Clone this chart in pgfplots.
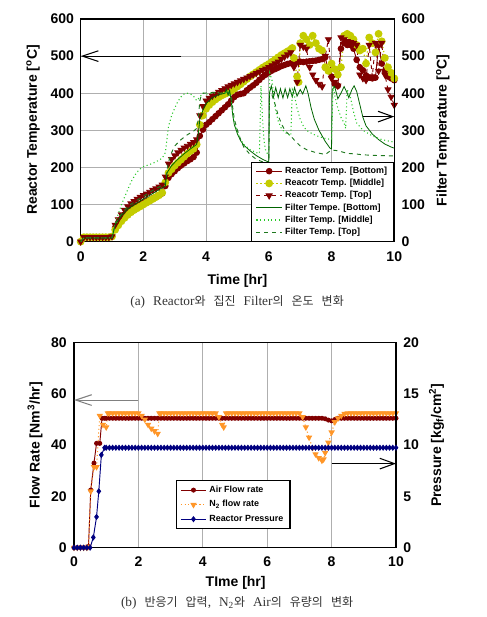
\documentclass[border=0pt]{standalone}
\usepackage{fontspec}
\setmainfont{Liberation Sans}
\newfontfamily\serifrm{Liberation Serif}
\newfontfamily\kr{Noto Sans CJK KR}
\usepackage{pgfplots}
\pgfplotsset{compat=1.18}
\usetikzlibrary{arrows.meta}
\definecolor{maroonA}{RGB}{128,0,0}
\definecolor{yel}{RGB}{196,204,0}
\definecolor{fgB}{RGB}{0,100,0}
\definecolor{fgM}{RGB}{40,200,40}
\definecolor{fgT}{RGB}{30,120,30}
\definecolor{orangeN}{RGB}{255,150,40}
\definecolor{navyP}{RGB}{0,0,128}
\definecolor{gridgray}{RGB}{175,175,175}
\newcommand{\K}[1]{{\kr\fontsize{9}{12}\selectfont #1}}
\newcommand{\SP}{\hspace{6pt}}
\pgfplotsset{
  base/.style={scale only axis, xmin=0, xmax=10, xtick={0,2,...,10},
    /pgf/number format/assume math mode=true,
    tick label style={font=\bfseries\fontsize{10.5}{12}\selectfont},
    label style={font=\bfseries\fontsize{10.5}{12}\selectfont},
    major tick length=0pt,
    axis line style={line width=0.8pt},
    major grid style={draw=gridgray, line width=0.7pt},
    legend cell align=left,
    legend image code/.code={\draw[mark repeat=2,mark phase=2,##1] plot coordinates {(0pt,0pt) (9.5pt,0pt) (19pt,0pt)};}},
  RB/.style={maroonA, line width=0.7pt, mark=*, mark size=2.1pt},
  RM/.style={yel, dotted, line width=1pt, mark=*, mark size=2.4pt, mark options={solid}},
  RT/.style={maroonA, dashed, line width=0.7pt, mark=triangle*, mark size=2.5pt, mark options={solid, rotate=180}},
  AIR/.style={maroonA, line width=0.7pt, mark=*, mark size=1.5pt},
  NN/.style={orangeN, dotted, line width=0.8pt, mark=triangle*, mark size=2pt, mark options={solid, rotate=180}},
}
\begin{document}
\begin{tikzpicture}
\useasboundingbox (0,0) rectangle (364.5pt,462.75pt);
% ================= TOP CHART =================
\begin{axis}[base, at={(60.5pt,281.5pt)}, anchor=south west, width=235.2pt, height=167pt,
  ymin=0, ymax=600, ytick={0,100,...,600}, ytick pos=left, xtick pos=left,
  grid=major,
  xticklabel style={yshift=-4pt}, yticklabel style={xshift=-1.5pt},
  xlabel={Time [hr]}, ylabel={Reactor Temperature [\textsuperscript{o}C]},
  xlabel style={at={(axis description cs:0.5,-0.176)}, anchor=center},
  ylabel style={at={(axis description cs:-0.152,0.502)}, anchor=center}]
\addplot[RB] coordinates {(0,0)(0.1,12)(0.2,12)(0.3,12)(0.4,12)(0.5,12)(0.6,12)(0.7,12)(0.8,12)(0.9,12)(1.0,14)(1.1,38)(1.2,52)(1.3,63)(1.4,73)(1.5,80)(1.6,87)(1.7,92)(1.8,97)(1.9,101)(2.0,105)(2.1,109)(2.2,113)(2.3,117)(2.4,121)(2.5,125)(2.6,130)(2.7,150)(2.8,172)(2.9,182)(3.0,190)(3.1,198)(3.2,205)(3.3,211)(3.4,217)(3.5,222)(3.6,228)(3.7,240)(3.8,285)(3.9,302)(4.0,315)(4.1,322)(4.2,330)(4.3,338)(4.4,346)(4.5,354)(4.6,362)(4.7,370)(4.8,380)(4.9,390)(5.0,396)(5.1,398)(5.2,400)(5.3,408)(5.4,415)(5.5,421)(5.6,428)(5.7,436)(5.8,444)(5.9,450)(6.0,456)(6.1,461)(6.2,465)(6.3,469)(6.4,473)(6.5,476)(6.6,479)(6.7,481)(6.8,483)(6.9,484)(7.0,485)(7.1,484)(7.2,485)(7.3,486)(7.4,487)(7.5,488)(7.6,490)(7.7,492)(7.8,497)(7.9,460)(8.0,445)(8.1,425)(8.2,420)(8.3,520)(8.4,535)(8.5,530)(8.6,530)(8.7,520)(8.8,490)(8.9,470)(9.0,462)(9.1,448)(9.2,442)(9.3,440)(9.4,442)(9.5,530)(9.6,480)(9.7,460)(9.8,445)(9.9,440)(10.0,435)};
\addplot[RM] coordinates {(0,0)(0.1,12)(0.2,12)(0.3,12)(0.4,12)(0.5,12)(0.6,12)(0.7,12)(0.8,12)(0.9,12)(1.0,14)(1.1,32)(1.2,44)(1.3,55)(1.4,64)(1.5,72)(1.6,79)(1.7,85)(1.8,90)(1.9,95)(2.0,100)(2.1,105)(2.2,110)(2.3,115)(2.4,120)(2.5,125)(2.6,132)(2.7,160)(2.8,185)(2.9,195)(3.0,205)(3.1,213)(3.2,221)(3.3,229)(3.4,237)(3.5,244)(3.6,250)(3.7,262)(3.8,315)(3.9,340)(4.0,358)(4.1,368)(4.2,376)(4.3,383)(4.4,389)(4.5,394)(4.6,398)(4.7,402)(4.8,406)(4.9,412)(5.0,418)(5.1,424)(5.2,431)(5.3,438)(5.4,445)(5.5,451)(5.6,457)(5.7,463)(5.8,469)(5.9,474)(6.0,479)(6.1,485)(6.2,491)(6.3,497)(6.4,503)(6.5,508)(6.6,513)(6.7,518)(6.75,522)(6.8,495)(6.9,445)(6.95,430)(7.0,535)(7.1,555)(7.2,545)(7.3,530)(7.4,555)(7.5,535)(7.6,520)(7.7,515)(7.8,470)(7.9,460)(8.0,480)(8.1,465)(8.2,450)(8.3,470)(8.4,555)(8.5,560)(8.6,555)(8.7,545)(8.8,530)(8.9,515)(9.0,520)(9.1,480)(9.2,550)(9.3,535)(9.4,510)(9.5,560)(9.6,540)(9.7,495)(9.8,470)(9.9,455)(10.0,440)};
\addplot[RT] coordinates {(0,0)(0.1,12)(0.2,12)(0.3,12)(0.4,12)(0.5,12)(0.6,12)(0.7,12)(0.8,12)(0.9,12)(1.0,14)(1.1,45)(1.2,60)(1.3,73)(1.4,85)(1.5,95)(1.6,103)(1.7,109)(1.8,115)(1.9,120)(2.0,125)(2.1,129)(2.2,134)(2.3,139)(2.4,143)(2.5,148)(2.6,153)(2.7,175)(2.8,210)(2.9,222)(3.0,232)(3.1,240)(3.2,247)(3.3,253)(3.4,258)(3.5,263)(3.6,268)(3.7,275)(3.8,340)(3.9,365)(4.0,380)(4.1,387)(4.2,393)(4.3,398)(4.4,403)(4.5,408)(4.6,413)(4.7,418)(4.8,422)(4.9,426)(5.0,430)(5.1,434)(5.2,438)(5.3,442)(5.4,446)(5.5,450)(5.6,454)(5.7,458)(5.8,462)(5.9,466)(6.0,470)(6.1,475)(6.2,480)(6.3,485)(6.4,492)(6.5,498)(6.6,504)(6.7,510)(6.8,470)(6.9,430)(7.0,530)(7.1,525)(7.2,520)(7.3,470)(7.4,450)(7.5,435)(7.6,425)(7.7,418)(7.8,500)(7.9,545)(8.0,440)(8.1,430)(8.2,420)(8.3,550)(8.4,545)(8.5,540)(8.6,537)(8.7,535)(8.8,530)(8.9,450)(9.0,440)(9.1,435)(9.2,530)(9.3,445)(9.4,535)(9.5,460)(9.6,535)(9.7,450)(9.8,410)(9.9,390)(10.0,368)};
\draw[black, line width=0.8pt, -{Straight Barb[length=12pt,width=8pt]}] (axis cs:3.2,500) -- (axis cs:0,500);
\end{axis}
\begin{axis}[base, at={(60.5pt,281.5pt)}, anchor=south west, width=235.2pt, height=167pt,
  ymin=0, ymax=600, ytick={0,100,...,600}, axis y line*=right, axis x line=none,
  yticklabel style={xshift=2pt},
  ylabel={Filter Temperature [\textsuperscript{o}C]},
  ylabel style={at={(axis description cs:1.155,0.5)}, anchor=center, rotate=0},
  legend style={at={(rel axis cs:1,0)}, anchor=south east, draw=black, line width=0.8pt, fill=white,
    font=\bfseries\fontsize{6.7}{8}\selectfont, inner xsep=3pt, inner ysep=1.5pt,
    row sep=-1.2pt, /tikz/every even column/.append style={column sep=2pt}}]
\addlegendimage{RB}
\addlegendentry{Reactor Temp. [Bottom]}
\addlegendimage{RM}
\addlegendentry{Reacotr Temp. [Middle]}
\addlegendimage{RT}
\addlegendentry{Reacotr Temp. [Top]}
\addplot[fgB, line width=0.6pt] coordinates {(0,0)(0.1,10)(1.0,10)(1.1,45)(1.3,70)(1.5,88)(1.8,105)(2.0,115)(2.3,130)(2.6,145)(2.7,150)(2.75,185)(2.9,205)(3.1,222)(3.3,237)(3.5,250)(3.7,262)(3.75,290)(3.8,330)(3.9,355)(4.0,372)(4.2,388)(4.4,396)(4.6,400)(4.65,410)(4.7,395)(4.75,408)(4.8,380)(4.85,340)(4.9,315)(5.0,290)(5.1,272)(5.2,260)(5.4,245)(5.6,232)(5.8,222)(5.95,216)(6.0,215)(6.02,400)(6.08,420)(6.15,390)(6.22,415)(6.3,388)(6.37,412)(6.45,387)(6.52,412)(6.6,388)(6.67,412)(6.75,390)(6.82,415)(6.9,392)(7.0,410)(7.08,398)(7.18,420)(7.25,400)(7.35,360)(7.45,330)(7.6,300)(7.8,270)(7.95,252)(8.0,250)(8.02,410)(8.1,418)(8.2,385)(8.3,400)(8.4,418)(8.5,400)(8.55,388)(8.65,410)(8.72,420)(8.8,405)(8.9,370)(9.0,335)(9.1,312)(9.3,290)(9.5,275)(9.7,263)(9.9,255)(10,252)};
\addlegendentry{Filter Tempe. [Bottom]}
\addplot[fgM, dotted, line width=0.8pt] coordinates {(0,0)(0.1,10)(1.0,10)(1.1,50)(1.2,75)(1.3,100)(1.4,120)(1.5,140)(1.6,160)(1.7,175)(1.8,188)(1.9,196)(2.0,202)(2.2,208)(2.4,215)(2.6,225)(2.7,240)(2.75,275)(2.8,310)(2.9,340)(3.0,360)(3.1,378)(3.2,390)(3.3,398)(3.4,400)(3.5,398)(3.6,392)(3.7,380)(3.8,390)(3.9,400)(4.0,398)(4.2,400)(4.4,402)(4.6,400)(4.7,405)(4.8,385)(4.85,350)(4.9,320)(5.0,295)(5.1,275)(5.2,262)(5.4,248)(5.6,240)(5.7,238)(5.75,420)(5.8,330)(5.85,270)(5.9,245)(5.95,238)(6.0,240)(6.03,455)(6.1,435)(6.15,400)(6.2,360)(6.3,325)(6.4,305)(6.5,295)(6.6,290)(6.7,285)(6.75,410)(6.8,400)(6.9,360)(7.0,330)(7.1,312)(7.2,300)(7.4,290)(7.6,283)(7.8,278)(7.95,276)(8.0,275)(8.05,420)(8.1,395)(8.2,360)(8.3,335)(8.4,320)(8.45,305)(8.5,410)(8.6,390)(8.7,350)(8.8,320)(9.0,300)(9.3,285)(9.6,275)(10,268)};
\addlegendentry{Filter Temp. [Middle]}
\addplot[fgT, dashed, line width=0.7pt] coordinates {(0,0)(0.1,10)(1.0,10)(1.1,48)(1.3,75)(1.5,95)(1.8,112)(2.0,122)(2.3,138)(2.6,152)(2.7,158)(2.75,190)(2.8,215)(2.9,240)(3.0,258)(3.2,275)(3.4,288)(3.6,298)(3.7,305)(3.75,330)(3.8,380)(3.85,395)(3.9,400)(4.2,402)(4.5,400)(4.7,402)(4.8,395)(4.85,360)(4.9,330)(5.0,300)(5.1,275)(5.2,255)(5.4,235)(5.6,222)(5.8,215)(5.9,212)(6.0,210)(6.02,390)(6.1,395)(6.2,370)(6.3,340)(6.4,318)(6.5,302)(6.6,292)(6.7,285)(6.8,275)(7.0,258)(7.2,248)(7.5,240)(7.8,235)(8.0,247)(8.2,245)(8.5,238)(8.8,236)(9.0,234)(9.5,232)(10,231)};
\addlegendentry{Filter Temp. [Top]}
\draw[black, line width=0.8pt, -{Straight Barb[length=11pt,width=8pt]}] (axis cs:9.0,337) -- (axis cs:10,337);
\end{axis}
\node[font=\serifrm\fontsize{10}{12}\selectfont, text=black!80] at (177.8pt,236.5pt) {(a)\SP Reactor\K{와}\SP\K{집진}\SP Filter\K{의}\SP\K{온도}\SP\K{변화}};
% ================= BOTTOM CHART =================
\begin{axis}[base, at={(55.5pt,52pt)}, anchor=south west, width=241.5pt, height=153.75pt,
  ymin=0, ymax=80, ytick={0,20,...,80}, ytick pos=left, xtick pos=left,
  xmajorgrids=true, ymajorgrids=false,
  xticklabel style={yshift=-3pt}, yticklabel style={xshift=-2pt},
  xlabel={TIme [hr]}, ylabel={Flow Rate [Nm\textsuperscript{3}/hr]},
  xlabel style={at={(axis description cs:0.502,-0.174)}, anchor=center},
  ylabel style={at={(axis description cs:-0.121,0.5)}, anchor=center}]
\addplot[AIR] coordinates {(0,0)(0.1,0)(0.2,0)(0.3,0)(0.4,0)(0.45,0.5)(0.52,22.5)(0.62,33)(0.7,40.7)(0.8,40.7)(0.87,50.5)(0.95,50.5)(1.0,50.5)(1.1,50.5)(1.2,50.5)(1.3,50.5)(1.4,50.5)(1.5,50.5)(1.6,50.5)(1.7,50.5)(1.8,50.5)(1.9,50.5)(2.0,50.5)(2.1,50.5)(2.2,50.5)(2.3,50.5)(2.4,50.5)(2.5,50.5)(2.6,50.5)(2.7,50.5)(2.8,50.5)(2.9,50.5)(3.0,50.5)(3.1,50.5)(3.2,50.5)(3.3,50.5)(3.4,50.5)(3.5,50.5)(3.6,50.5)(3.7,50.5)(3.8,50.5)(3.9,50.5)(4.0,50.5)(4.1,50.5)(4.2,50.5)(4.3,50.5)(4.4,50.5)(4.5,50.5)(4.6,50.5)(4.7,50.5)(4.8,50.5)(4.9,50.5)(5.0,50.5)(5.1,50.5)(5.2,50.5)(5.3,50.5)(5.4,50.5)(5.5,50.5)(5.6,50.5)(5.7,50.5)(5.8,50.5)(5.9,50.5)(6.0,50.5)(6.1,50.5)(6.2,50.5)(6.3,50.5)(6.4,50.5)(6.5,50.5)(6.6,50.5)(6.7,50.5)(6.8,50.5)(6.9,50.5)(7.0,50.5)(7.1,50.5)(7.2,50.5)(7.3,50.5)(7.4,50.5)(7.5,50.5)(7.6,50.5)(7.7,50.5)(7.8,50.3)(7.9,49.8)(8.0,49.5)(8.1,50.0)(8.2,50.5)(8.3,50.5)(8.4,50.5)(8.5,50.5)(8.6,50.5)(8.7,50.5)(8.8,50.5)(8.9,50.5)(9.0,50.5)(9.1,50.5)(9.2,50.5)(9.3,50.5)(9.4,50.5)(9.5,50.5)(9.6,50.5)(9.7,50.5)(9.8,50.5)(9.9,50.5)(10.0,50.5)};
\addplot[NN] coordinates {(0,0)(0.1,0)(0.2,0)(0.3,0)(0.4,0)(0.45,0.5)(0.52,22)(0.62,31.5)(0.7,31.5)(0.8,51.5)(0.9,48)(1.0,47)(1.05,52.5)(1.1,52.5)(1.2,52.5)(1.3,52.5)(1.4,52.5)(1.5,52.5)(1.6,52.5)(1.7,52.5)(1.8,52.5)(1.9,52.5)(2.0,52.5)(2.1,51.5)(2.2,50)(2.3,48)(2.4,46.5)(2.5,45.5)(2.6,44.5)(2.65,52.5)(2.7,52.5)(2.8,52.5)(2.9,52.5)(3.0,52.5)(3.1,52.5)(3.2,52.5)(3.3,52.5)(3.4,52.5)(3.5,52.5)(3.6,52.5)(3.7,52.5)(3.8,52.5)(3.9,52.5)(4.0,52.5)(4.1,52.5)(4.2,52.5)(4.3,52.5)(4.4,52.5)(4.5,51)(4.6,48)(4.65,47)(4.72,52.5)(4.8,52.5)(4.9,52.5)(5.0,52.5)(5.1,52.5)(5.2,52.5)(5.3,52.5)(5.4,52.5)(5.5,52.5)(5.6,52.5)(5.7,52.5)(5.8,52.5)(5.9,52.5)(6.0,52.5)(6.1,52.5)(6.2,52.5)(6.3,52.5)(6.4,52.5)(6.5,52.5)(6.6,52.5)(6.7,52.5)(6.8,52.5)(6.9,52.5)(7.0,52.5)(7.1,51)(7.2,47)(7.3,43)(7.4,39)(7.5,36.5)(7.6,35)(7.7,34)(7.75,34.5)(7.8,37)(7.9,41)(8.0,45)(8.1,49)(8.2,50.5)(8.3,51.5)(8.4,52.3)(8.5,52.5)(8.6,52.5)(8.7,52.5)(8.8,52.5)(8.9,52.5)(9.0,52.5)(9.1,52.5)(9.2,52.5)(9.3,52.5)(9.4,52.5)(9.5,52.5)(9.6,52.5)(9.7,52.5)(9.8,52.5)(9.9,52.5)(10.0,52.5)};
\draw[gray, line width=0.8pt, -{Straight Barb[length=12pt,width=8pt]}] (axis cs:2.0,57.6) -- (axis cs:0,57.6);
\end{axis}
\begin{axis}[base, at={(55.5pt,52pt)}, anchor=south west, width=241.5pt, height=153.75pt,
  ymin=0, ymax=20, ytick={0,5,...,20}, axis y line*=right, axis x line=none,
  yticklabel style={xshift=2pt},
  ylabel={Pressure [kg\textsubscript{f}/cm\textsuperscript{2}]},
  ylabel style={at={(axis description cs:1.126,0.5)}, anchor=center, rotate=0},
  legend style={at={(axis description cs:0.316,0.33)}, anchor=north west, draw=black, line width=0.8pt, fill=white,
    font=\bfseries\fontsize{6.7}{8}\selectfont, inner xsep=3pt, inner ysep=2pt,
    row sep=0.6pt, /tikz/every even column/.append style={column sep=2pt}}]
\addlegendimage{AIR}
\addlegendentry{Air Flow rate}
\addlegendimage{NN}
\addlegendentry{N\textsubscript{2} flow rate}
\addplot[navyP, line width=0.7pt, mark=diamond*, mark size=1.8pt] coordinates {(0,0)(0.1,0)(0.2,0)(0.3,0)(0.4,0)(0.5,0)(0.6,1.0)(0.7,3.0)(0.77,5.5)(0.85,9.05)(0.95,9.75)(1.0,9.75)(1.1,9.75)(1.2,9.75)(1.3,9.75)(1.4,9.75)(1.5,9.75)(1.6,9.75)(1.7,9.75)(1.8,9.75)(1.9,9.75)(2.0,9.75)(2.1,9.75)(2.2,9.75)(2.3,9.75)(2.4,9.75)(2.5,9.75)(2.6,9.75)(2.7,9.75)(2.8,9.75)(2.9,9.75)(3.0,9.75)(3.1,9.75)(3.2,9.75)(3.3,9.75)(3.4,9.75)(3.5,9.75)(3.6,9.75)(3.7,9.75)(3.8,9.75)(3.9,9.75)(4.0,9.75)(4.1,9.75)(4.2,9.75)(4.3,9.75)(4.4,9.75)(4.5,9.75)(4.6,9.75)(4.7,9.75)(4.8,9.75)(4.9,9.75)(5.0,9.75)(5.1,9.75)(5.2,9.75)(5.3,9.75)(5.4,9.75)(5.5,9.75)(5.6,9.75)(5.7,9.75)(5.8,9.75)(5.9,9.75)(6.0,9.75)(6.1,9.75)(6.2,9.75)(6.3,9.75)(6.4,9.75)(6.5,9.75)(6.6,9.75)(6.7,9.75)(6.8,9.75)(6.9,9.75)(7.0,9.75)(7.1,9.75)(7.2,9.75)(7.3,9.75)(7.4,9.75)(7.5,9.75)(7.6,9.75)(7.7,9.75)(7.8,9.75)(7.9,9.75)(8.0,9.75)(8.1,9.75)(8.2,9.75)(8.3,9.75)(8.4,9.75)(8.5,9.75)(8.6,9.75)(8.7,9.75)(8.8,9.75)(8.9,9.75)(9.0,9.75)(9.1,9.75)(9.2,9.75)(9.3,9.75)(9.4,9.75)(9.5,9.75)(9.6,9.75)(9.7,9.75)(9.8,9.75)(9.9,9.75)(10.0,9.75)};
\addlegendentry{Reactor Pressure}
\draw[black, line width=0.8pt, -{Straight Barb[length=11pt,width=8pt]}] (axis cs:8.0,8.2) -- (axis cs:10,8.2);
\end{axis}
\node[font=\serifrm\fontsize{10}{12}\selectfont, text=black!80] at (177.8pt,10.7pt) {(b)\SP\K{반응기}\SP\K{압력},\SP N\textsubscript{2}\K{와}\SP Air\K{의}\SP\K{유량의}\SP\K{변화}};
\end{tikzpicture}
\end{document}
